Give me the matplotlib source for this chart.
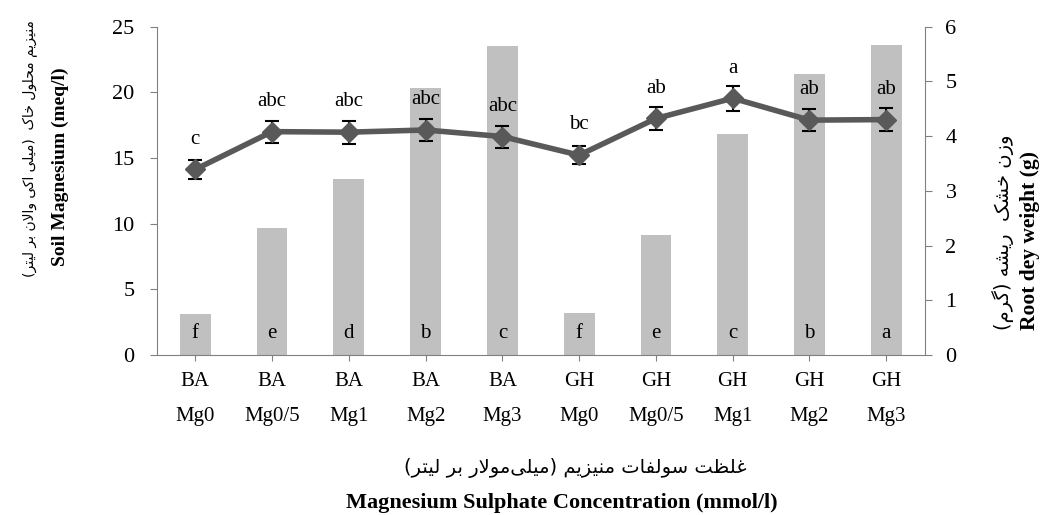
import matplotlib
matplotlib.use("Agg")
import matplotlib.pyplot as plt
import numpy as np

# treatments on the x axis
groups = ["BA", "BA", "BA", "BA", "BA", "GH", "GH", "GH", "GH", "GH"]
doses = ["Mg0", "Mg0/5", "Mg1", "Mg2", "Mg3", "Mg0", "Mg0/5", "Mg1", "Mg2", "Mg3"]

# soil magnesium (bars, left axis)
soil_mg = [3.1, 9.7, 13.4, 20.3, 23.5, 3.2, 9.1, 16.8, 21.4, 23.6]
soil_letters = ["f", "e", "d", "b", "c", "f", "e", "c", "b", "a"]

# root dry weight (line, right axis)
root_dw = [3.39, 4.08, 4.07, 4.11, 3.99, 3.65, 4.32, 4.69, 4.29, 4.30]
root_err = [0.17, 0.20, 0.21, 0.20, 0.20, 0.17, 0.21, 0.23, 0.20, 0.21]
root_letters = ["c", "abc", "abc", "abc", "abc", "bc", "ab", "a", "ab", "ab"]

fa_left = "منیزیم محلول خاک  (میلی اکی والان بر لیتر)"
fa_right = "وزن خشک  ریشه (گرم)"
fa_bottom = "غلظت سولفات منیزیم (میلی\u200cمولار بر لیتر)"

# minimal persian shaping, matplotlib has no bidi/shaping
FORMS = {
    'ا': ('\ufe8d', '\ufe8e'),
    'ر': ('\ufead', '\ufeae'),
    'ز': ('\ufeaf', '\ufeb0'),
    'و': ('\ufeed', '\ufeee'),
    'ب': ('\ufe8f', '\ufe90', '\ufe91', '\ufe92'),
    'ت': ('\ufe95', '\ufe96', '\ufe97', '\ufe98'),
    'ح': ('\ufea1', '\ufea2', '\ufea3', '\ufea4'),
    'خ': ('\ufea5', '\ufea6', '\ufea7', '\ufea8'),
    'س': ('\ufeb1', '\ufeb2', '\ufeb3', '\ufeb4'),
    'ش': ('\ufeb5', '\ufeb6', '\ufeb7', '\ufeb8'),
    'ظ': ('\ufec5', '\ufec6', '\ufec7', '\ufec8'),
    'غ': ('\ufecd', '\ufece', '\ufecf', '\ufed0'),
    'ف': ('\ufed1', '\ufed2', '\ufed3', '\ufed4'),
    'ل': ('\ufedd', '\ufede', '\ufedf', '\ufee0'),
    'م': ('\ufee1', '\ufee2', '\ufee3', '\ufee4'),
    'ن': ('\ufee5', '\ufee6', '\ufee7', '\ufee8'),
    'ه': ('\ufee9', '\ufeea', '\ufeeb', '\ufeec'),
    '\u06cc': ('\ufbfc', '\ufbfd', '\ufbfe', '\ufbff'),
    '\u06a9': ('\ufb8e', '\ufb8f', '\ufb90', '\ufb91'),
    'گ': ('\ufb92', '\ufb93', '\ufb94', '\ufb95'),
}


def shape(s):
    s = s.replace('\u064a', '\u06cc').replace('\u0643', '\u06a9')
    out = []
    i = 0
    n = len(s)
    while i < n:
        c = s[i]
        if c not in FORMS:
            if c != '\u200c':
                out.append(c)
            i += 1
            continue
        prev = s[i - 1] if i > 0 else ''
        jp = len(FORMS.get(prev, ())) == 4
        if c == 'ل' and i + 1 < n and s[i + 1] == 'ا':
            out.append('\ufefc' if jp else '\ufefb')
            i += 2
            continue
        nxt = s[i + 1] if i + 1 < n else ''
        f = FORMS[c]
        jn = len(f) == 4 and nxt in FORMS
        if jp and jn:
            g = f[3]
        elif jp:
            g = f[1]
        elif jn:
            g = f[2]
        else:
            g = f[0]
        out.append(g)
        i += 1
    mirror = {'(': ')', ')': '('}
    return ''.join(mirror.get(ch, ch) for ch in reversed(out))


serif = ["Liberation Serif", "DejaVu Serif"]
fa_font = ["DejaVu Sans"]
plt.rcParams['font.family'] = serif

fig = plt.figure(figsize=(10.46, 5.15), dpi=100)
ax = fig.add_axes([0.150, 0.3107, 0.734, 0.6378])
ax2 = ax.twinx()

x = np.arange(len(doses))
ax.bar(x, soil_mg, width=0.4, color="#c0c0c0", zorder=2)
for xi, lab in zip(x, soil_letters):
    ax.text(xi, 1.27, lab, ha="center", va="baseline", fontsize=15, zorder=3)

ax2.errorbar(x, root_dw, yerr=root_err, color="#595959", lw=4, marker="D",
             markersize=10, mfc="#595959", mec="#595959",
             ecolor="black", elinewidth=1.5, capsize=5, capthick=1.5)
for xi, yi, lab in zip(x, root_dw, root_letters):
    ax2.annotate(lab, (xi, yi), xytext=(0, 18.5), textcoords="offset points",
                 ha="center", va="baseline", fontsize=15)

ax.set_xlim(-0.5, len(doses) - 0.5)
ax.set_ylim(0, 25)
ax2.set_ylim(0, 6)
ax.set_yticks(range(0, 26, 5))
ax2.set_yticks(range(0, 7))
ax.set_xticks(x)
ax.set_xticklabels([g + "\n" + d for g, d in zip(groups, doses)], linespacing=2.2)

for a in (ax, ax2):
    a.spines["top"].set_visible(False)
    for sp in a.spines.values():
        sp.set_color("#808080")
ax.spines["right"].set_visible(False)
ax2.spines["left"].set_visible(False)
ax2.spines["bottom"].set_visible(False)

ax.tick_params(axis="y", direction="out", length=5, color="#808080", labelsize=16, pad=11)
ax2.tick_params(axis="y", direction="out", length=5, color="#808080", labelsize=16, pad=10)
ax.tick_params(axis="x", direction="inout", length=8, color="#808080", labelsize=15, pad=8)

# axis titles
fig.text(0.0287, 0.7117, shape(fa_left), rotation=90, ha="center", va="center",
         fontsize=10, family=fa_font)
fig.text(0.0574, 0.676, "Soil Magnesium (meq/l)", rotation=90, ha="center", va="center",
         fontsize=14, fontweight="bold")
fig.text(0.959, 0.5495, shape(fa_right), rotation=90, ha="center", va="center",
         fontsize=14, family=fa_font)
fig.text(0.985, 0.533, "Root dey weight (g)", rotation=90, ha="center", va="center",
         fontsize=15.5, fontweight="bold")
fig.text(0.55, 0.0913, shape(fa_bottom), ha="center", va="center",
         fontsize=14, family=fa_font)
fig.text(0.537, 0.0233, "Magnesium Sulphate Concentration (mmol/l)", ha="center", va="center",
         fontsize=16, fontweight="bold")

fig.savefig("out.png", dpi=100)
